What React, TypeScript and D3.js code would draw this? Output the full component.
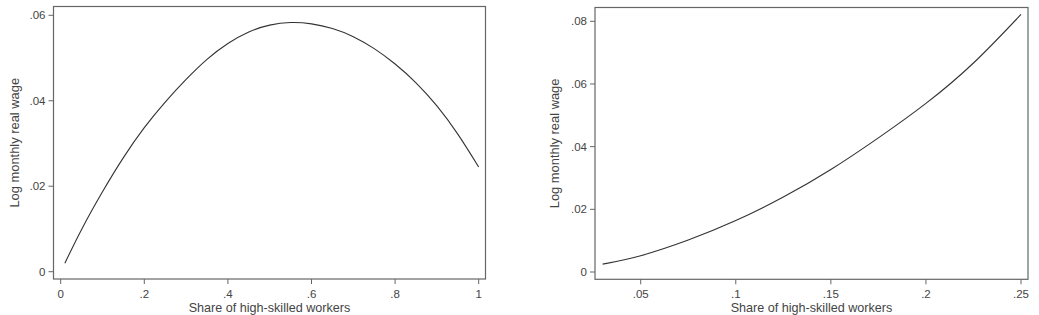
import React from "react";
import * as d3 from "d3";

// Left panel: share of high-skilled workers (0-1) vs log monthly real wage
const leftX = [0.01, 0.05, 0.1, 0.15, 0.2, 0.25, 0.3, 0.35, 0.4, 0.45, 0.5, 0.55, 0.6, 0.65, 0.7, 0.75, 0.8, 0.85, 0.9, 0.95, 1.0];
const leftY = [0.002, 0.0099, 0.0187, 0.0267, 0.0337, 0.0397, 0.0450, 0.0497, 0.0534, 0.0561, 0.0577, 0.0583, 0.0580, 0.0569, 0.0550, 0.0522, 0.0486, 0.0442, 0.0388, 0.0322, 0.0245];
const leftXTicks = [0, 0.2, 0.4, 0.6, 0.8, 1];
const leftXTickLabels = ["0", ".2", ".4", ".6", ".8", "1"];
const leftYTicks = [0, 0.02, 0.04, 0.06];
const leftYTickLabels = ["0", ".02", ".04", ".06"];

// Right panel
const rightX = [0.03, 0.05, 0.075, 0.1, 0.125, 0.15, 0.175, 0.2, 0.225, 0.25];
const rightY = [0.0025, 0.0052, 0.0102, 0.0164, 0.0239, 0.0327, 0.0428, 0.0538, 0.0667, 0.0822];
const rightXTicks = [0.05, 0.1, 0.15, 0.2, 0.25];
const rightXTickLabels = [".05", ".1", ".15", ".2", ".25"];
const rightYTicks = [0, 0.02, 0.04, 0.06, 0.08];
const rightYTickLabels = ["0", ".02", ".04", ".06", ".08"];

const xTitle = "Share of high-skilled workers";
const yTitle = "Log monthly real wage";

const FONT = "Liberation Sans, Arial, Helvetica, sans-serif";
const TEXT = "#444";
const AXIS = "#666";

type PanelProps = {
  xs: number[]; ys: number[];
  xTicks: number[]; xLabels: string[];
  yTicks: number[]; yLabels: string[];
  xDomain: [number, number]; xRange: [number, number];
  yDomain: [number, number]; yRange: [number, number];
  frame: { x0: number; x1: number; y0: number; y1: number };
  yTitleX: number;
};

function Panel(p: PanelProps) {
  const x = d3.scaleLinear().domain(p.xDomain).range(p.xRange);
  const y = d3.scaleLinear().domain(p.yDomain).range(p.yRange);
  const pts = p.xs.map((v, i) => [v, p.ys[i]] as [number, number]);
  const line = d3.line<[number, number]>().x(d => x(d[0])).y(d => y(d[1])).curve(d3.curveNatural);
  const f = p.frame;
  const cx = (f.x0 + f.x1) / 2;
  const cy = (f.y0 + f.y1) / 2;
  return (
    <g>
      <rect x={f.x0} y={f.y0} width={f.x1 - f.x0} height={f.y1 - f.y0} fill="none" stroke={AXIS} strokeWidth={1.2} />
      {p.yTicks.map((t, i) => (
        <g key={"y" + i}>
          <line x1={f.x0 - 5} x2={f.x0} y1={y(t)} y2={y(t)} stroke={AXIS} strokeWidth={1} />
          <text x={f.x0 - 8} y={y(t)} dy="0.35em" textAnchor="end" fontSize={11.5} fill={TEXT} fontFamily={FONT}>{p.yLabels[i]}</text>
        </g>
      ))}
      {p.xTicks.map((t, i) => (
        <g key={"x" + i}>
          <line x1={x(t)} x2={x(t)} y1={f.y1} y2={f.y1 + 5} stroke={AXIS} strokeWidth={1} />
          <text x={x(t)} y={f.y1 + 18.5} textAnchor="middle" fontSize={11.5} fill={TEXT} fontFamily={FONT}>{p.xLabels[i]}</text>
        </g>
      ))}
      <text x={cx} y={f.y1 + 32.5} textAnchor="middle" fontSize={12.6} fill={TEXT} fontFamily={FONT}>{xTitle}</text>
      <text transform={`translate(${p.yTitleX},${cy}) rotate(-90)`} textAnchor="middle" dy="0.35em" fontSize={12.9} fill={TEXT} fontFamily={FONT}>{yTitle}</text>
      <path d={line(pts) || ""} fill="none" stroke="#333" strokeWidth={1.1} />
    </g>
  );
}

export default function App() {
  return (
    <svg width={1039} height={315} style={{ position: "absolute", left: 0, top: 0, background: "#fff" }}>
      <rect x={0} y={0} width={1039} height={315} fill="#fff" />
      <Panel xs={leftX} ys={leftY} xTicks={leftXTicks} xLabels={leftXTickLabels}
        yTicks={leftYTicks} yLabels={leftYTickLabels}
        xDomain={[0, 1]} xRange={[60.7, 478.7]}
        yDomain={[0, 0.06]} yRange={[271.7, 15.3]}
        frame={{ x0: 53.5, x1: 485.5, y0: 6.5, y1: 279 }} yTitleX={14} />
      <Panel xs={rightX} ys={rightY} xTicks={rightXTicks} xLabels={rightXTickLabels}
        yTicks={rightYTicks} yLabels={rightYTickLabels}
        xDomain={[0.05, 0.25]} xRange={[640.7, 1021]}
        yDomain={[0, 0.08]} yRange={[272, 21.3]}
        frame={{ x0: 595, x1: 1028, y0: 7.5, y1: 279.3 }} yTitleX={554} />
    </svg>
  );
}
